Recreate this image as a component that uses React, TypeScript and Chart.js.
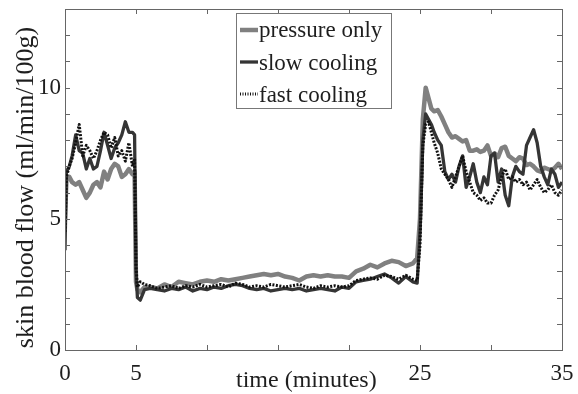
import { useEffect, useRef } from 'react';
import { Chart, registerables } from 'chart.js';

Chart.register(...registerables);

// time in minutes
const times = [
  0, 0.1, 0.3, 0.5, 0.75, 1, 1.25, 1.5, 1.75, 2, 2.25, 2.5, 2.75, 3, 3.25, 3.5, 3.75, 4, 4.25, 4.5, 4.75, 4.9,
  5.0, 5.1, 5.3, 5.6,
  6, 6.5, 7, 7.5, 8, 8.5, 9, 9.5, 10, 10.5, 11, 11.5, 12, 12.5, 13, 13.5, 14, 14.5, 15, 15.5, 16, 16.5, 17, 17.5,
  18, 18.5, 19, 19.5, 20, 20.5, 21, 21.5, 22, 22.5, 23, 23.5, 24, 24.5, 24.8,
  25.0, 25.2, 25.4, 25.6, 25.8,
  26, 26.25, 26.5, 26.75, 27, 27.25, 27.5, 27.75, 28, 28.25, 28.5, 28.75, 29, 29.25, 29.5, 29.75,
  30, 30.25, 30.5, 30.75, 31, 31.25, 31.5, 31.75, 32, 32.25, 32.5, 32.75, 33, 33.25, 33.5, 33.75,
  34, 34.25, 34.5, 34.75, 35,
];

const pressureOnly = [
  5.0, 6.5, 6.6, 6.4, 6.3, 6.4, 6.1, 5.8, 6.0, 6.3, 6.4, 6.2, 6.8, 6.5, 6.9, 7.1, 7.0, 6.6, 6.7, 6.9, 6.7, 6.8,
  2.6, 2.3, 2.2, 2.4,
  2.4, 2.35, 2.5, 2.4, 2.6, 2.55, 2.5, 2.6, 2.65, 2.6, 2.7, 2.65, 2.7, 2.75, 2.8, 2.85, 2.9, 2.85, 2.9, 2.8,
  2.75, 2.65, 2.8, 2.85, 2.8, 2.85, 2.8, 2.8, 2.75, 3.0, 3.1, 3.25, 3.15, 3.3, 3.4, 3.35, 3.2, 3.3, 3.5,
  5.0, 8.8, 10.0, 9.6, 9.2,
  9.1, 9.15, 8.9, 8.6, 8.3, 8.1, 8.15, 8.05, 7.95, 8.0, 7.6, 7.6, 7.65, 7.55, 7.6, 7.8,
  7.4, 7.5, 7.35, 7.7, 7.75, 7.4, 7.3, 7.2, 7.35, 7.3, 7.05, 7.1, 7.0, 6.85, 6.8, 6.95,
  6.9, 6.85, 6.95, 7.1, 6.9,
];

const slowCooling = [
  3.8, 6.8, 7.0, 7.4, 8.2, 7.6, 7.5, 6.9, 7.3, 6.9, 7.0, 7.6, 8.3, 7.8, 7.3, 7.7, 7.9, 8.2, 8.7, 8.3, 8.3, 8.2,
  3.0, 2.0, 1.9, 2.3,
  2.35, 2.3, 2.25, 2.35, 2.3, 2.4, 2.25, 2.35, 2.3, 2.4, 2.35, 2.45, 2.5, 2.45, 2.35, 2.3, 2.35, 2.25, 2.3, 2.35,
  2.3, 2.35, 2.25, 2.3, 2.35, 2.3, 2.25, 2.4, 2.35, 2.6, 2.65, 2.7, 2.8, 2.9, 2.75, 2.55, 2.8, 2.6, 2.55,
  4.5, 8.0, 9.0, 8.8, 8.6,
  8.3, 8.0, 7.8, 6.8, 6.5, 6.7, 6.4, 7.0, 7.4, 6.2, 6.6, 7.1, 6.4, 6.0, 6.6, 6.3,
  7.4, 7.5, 6.4, 6.9, 5.9, 5.5, 6.6, 7.0, 6.8, 6.7, 7.8, 8.1, 8.4, 7.9, 7.0, 6.6,
  6.3, 6.9, 6.7, 6.2, 6.4,
];

const fastCooling = [
  4.5, 6.6, 7.0, 7.3, 7.9, 8.6, 7.4, 7.8, 7.6, 7.3, 7.6, 8.0, 8.3, 8.2, 7.7, 8.1, 7.4, 7.6, 7.2, 7.9, 7.0, 7.3,
  3.2, 2.4, 2.6, 2.5,
  2.45, 2.35, 2.4, 2.45, 2.35, 2.45, 2.4, 2.5, 2.4, 2.45, 2.5, 2.4, 2.55, 2.5, 2.4, 2.45, 2.4, 2.5, 2.45, 2.4,
  2.45, 2.5, 2.4, 2.35, 2.45, 2.4, 2.45, 2.4, 2.45, 2.65, 2.7, 2.75, 2.7, 2.85, 2.8, 2.7, 2.85, 2.7, 2.65,
  4.0, 7.8, 8.6, 8.7, 8.3,
  7.9, 7.5, 6.9, 6.7, 6.5, 6.2, 6.6, 7.0, 7.4, 6.8, 6.4, 6.0, 5.9, 5.7, 5.8, 5.6,
  5.6, 5.9, 6.1, 6.6, 6.9, 6.5, 6.6, 6.4, 6.5, 6.3, 6.4, 6.1, 6.3, 6.5, 6.2, 6.0,
  6.1, 6.3, 6.0, 5.9, 6.1,
];

const seriesNames = ['pressure only', 'slow cooling', 'fast cooling'];
const xTickLabels = [0, 5, 25, 35];
const yTickLabels = [0, 5, 10];
const xTickMarks = [0, 5, 10, 15, 20, 25, 30, 35];
const yTickMarks = [0, 1, 2, 3, 4, 5, 6, 7, 8, 9, 10, 11, 12, 13];
const xTitle = 'time (minutes)';
const yTitle = 'skin blood flow (ml/min/100g)';

const FONT = '"Liberation Serif", "Times New Roman", serif';
const TEXT = '#1e1e1e';
const AXIS = '#666666';

const seriesStyles = [
  { color: '#808080', width: 4.5, dash: [] as number[] },
  { color: '#353535', width: 3.3, dash: [] as number[] },
  { color: '#111111', width: 3, dash: [2, 1.5] },
];

const framePlugin = {
  id: 'matlabFrame',
  afterDatasetsDraw(chart: any) {
    const { ctx, chartArea: a, scales } = chart;
    const x = scales.x;
    const y = scales.y;
    ctx.save();
    ctx.strokeStyle = AXIS;
    ctx.lineWidth = 1;
    ctx.strokeRect(a.left + 0.5, a.top + 0.5, a.right - a.left, a.bottom - a.top);
    const len = 5;
    ctx.beginPath();
    xTickMarks.forEach((v) => {
      const px = Math.round(x.getPixelForValue(v)) + 0.5;
      ctx.moveTo(px, a.bottom);
      ctx.lineTo(px, a.bottom - len);
      ctx.moveTo(px, a.top);
      ctx.lineTo(px, a.top + len);
    });
    yTickMarks.forEach((v) => {
      const py = Math.round(y.getPixelForValue(v)) + 0.5;
      ctx.moveTo(a.left, py);
      ctx.lineTo(a.left + len, py);
      ctx.moveTo(a.right, py);
      ctx.lineTo(a.right - len, py);
    });
    ctx.stroke();
    ctx.restore();
  },
};

const titlesPlugin = {
  id: 'axisTitles',
  afterDraw(chart: any) {
    const { ctx, chartArea: a } = chart;
    ctx.save();
    ctx.fillStyle = TEXT;
    ctx.textBaseline = 'middle';
    ctx.font = `24px ${FONT}`;
    ctx.textAlign = 'left';
    ctx.fillText(xTitle, 236, 381);
    ctx.translate(26, (a.top + a.bottom) / 2 + 8);
    ctx.rotate(-Math.PI / 2);
    ctx.font = `26px ${FONT}`;
    ctx.textAlign = 'center';
    ctx.fillText(yTitle, 0, 0);
    ctx.restore();
  },
};

const legendPlugin = {
  id: 'boxLegend',
  afterDraw(chart: any) {
    const { ctx } = chart;
    const bx = 236, by = 13, bw = 155, bh = 95;
    ctx.save();
    ctx.fillStyle = '#ffffff';
    ctx.fillRect(bx, by, bw, bh);
    ctx.strokeStyle = '#777777';
    ctx.lineWidth = 1;
    ctx.strokeRect(bx + 0.5, by + 0.5, bw, bh);
    const baselines = [37, 69.5, 101.5];
    const lineYs = [30, 62, 94];
    seriesNames.forEach((name, i) => {
      const st = seriesStyles[i];
      ctx.beginPath();
      ctx.strokeStyle = st.color;
      ctx.lineWidth = st.width;
      ctx.setLineDash(i === 2 ? [1, 1.5] : []);
      ctx.moveTo(240, lineYs[i]);
      ctx.lineTo(258, lineYs[i]);
      ctx.stroke();
      ctx.setLineDash([]);
      ctx.fillStyle = TEXT;
      ctx.font = `23px ${FONT}`;
      ctx.textAlign = 'left';
      ctx.textBaseline = 'alphabetic';
      ctx.fillText(name, 259, baselines[i]);
    });
    ctx.restore();
  },
};

export default function App() {
  const ref = useRef<HTMLCanvasElement | null>(null);

  useEffect(() => {
    if (!ref.current) return;
    const seriesValues = [pressureOnly, slowCooling, fastCooling];
    const chart = new Chart(ref.current, {
      type: 'line',
      data: {
        datasets: seriesNames.map((name, i) => ({
          label: name,
          data: times.map((t, k) => ({ x: t, y: seriesValues[i][k] })),
          borderColor: seriesStyles[i].color,
          borderWidth: seriesStyles[i].width,
          borderDash: seriesStyles[i].dash,
          borderJoinStyle: 'round' as const,
          pointRadius: 0,
          tension: 0,
          fill: false,
          order: 3 - i,
        })),
      },
      options: {
        animation: false,
        responsive: false,
        devicePixelRatio: 1,
        layout: { padding: { top: 9, right: 16, left: 0, bottom: 0 } },
        plugins: {
          legend: { display: false },
          tooltip: { enabled: false },
        },
        scales: {
          x: {
            type: 'linear',
            min: 0,
            max: 35,
            grid: { display: false, drawTicks: false },
            border: { display: false },
            ticks: {
              stepSize: 5,
              autoSkip: false,
              maxRotation: 0,
              padding: 10,
              color: TEXT,
              font: { family: FONT, size: 23 },
              callback: (v: any) => (xTickLabels.includes(Number(v)) ? String(v) : ''),
            },
            afterFit: (s: any) => {
              s.height = 44;
              s.paddingLeft = 0;
              s.paddingRight = 0;
            },
          },
          y: {
            min: 0,
            max: 13,
            grid: { display: false, drawTicks: false },
            border: { display: false },
            ticks: {
              stepSize: 1,
              autoSkip: false,
              padding: 4,
              color: TEXT,
              font: { family: FONT, size: 23 },
              callback: (v: any) => (yTickLabels.includes(Number(v)) ? String(v) : ''),
            },
            afterFit: (s: any) => {
              s.width = 65;
              s.paddingTop = 0;
              s.paddingBottom = 0;
            },
          },
        },
      },
      plugins: [framePlugin, legendPlugin, titlesPlugin],
    });
    return () => chart.destroy();
  }, []);

  return (
    <div style={{ position: 'fixed', left: 0, top: 0, width: 578, height: 394, background: '#fff' }}>
      <canvas ref={ref} width={578} height={394} />
    </div>
  );
}
